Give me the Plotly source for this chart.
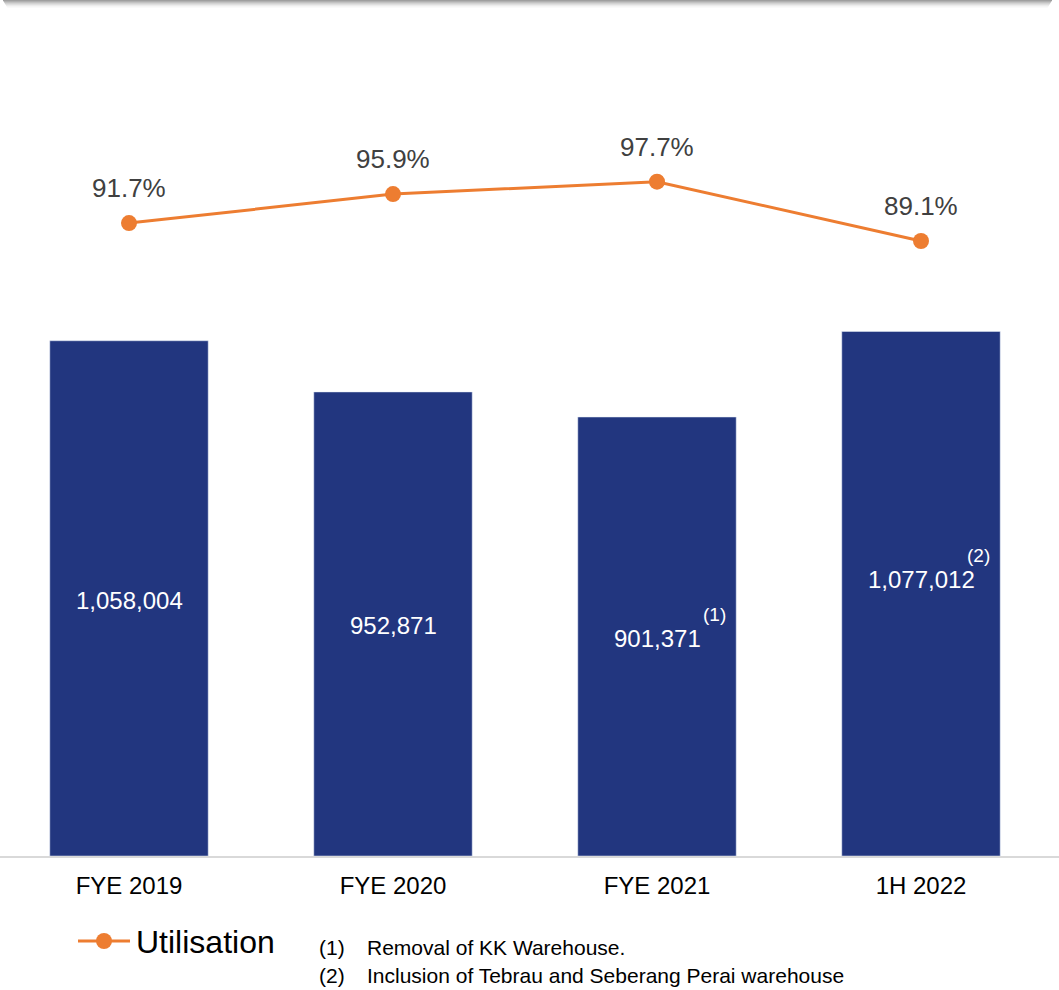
import plotly.graph_objects as go

categories = ["FYE 2019", "FYE 2020", "FYE 2021", "1H 2022"]
capacity = [1058004, 952871, 901371, 1077012]
capacity_labels = ["1,058,004", "952,871", "901,371", "1,077,012"]
utilisation = [91.7, 95.9, 97.7, 89.1]
util_labels = ["91.7%", "95.9%", "97.7%", "89.1%"]
footnote_marks = ["", "", "(1)", "(2)"]
footnote_nums = ["(1)", "(2)"]
footnote_texts = ["Removal of KK Warehouse.", "Inclusion of Tebrau and Seberang Perai warehouse"]

BAR = "#22367F"
ORANGE = "#ED7D31"
FONT = "Liberation Sans, Arial"

W, H = 1059, 990
T, B = 100, 856
PH = B - T

def py(ypx):
    return (B - ypx) / PH

def px(xpx):
    return xpx / W

fig = go.Figure()
fig.add_trace(go.Bar(x=[0, 1, 2, 3], y=capacity, marker_color=BAR, width=0.6,
                     showlegend=False, hoverinfo="skip"))
fig.add_trace(go.Scatter(x=[0, 1, 2, 3], y=utilisation, yaxis="y2", mode="lines+markers",
                         name="Utilisation", line=dict(color=ORANGE, width=3),
                         marker=dict(color=ORANGE, size=16), showlegend=False))

ann = []
for i, (v, lab) in enumerate(zip(capacity, capacity_labels)):
    ys = 14 if i == 3 else -2
    ann.append(dict(x=i, y=v / 2, xref="x", yref="y", text=lab, showarrow=False,
                    font=dict(color="white", size=24, family=FONT), yshift=ys))
    if footnote_marks[i]:
        ann.append(dict(x=i, y=v / 2, xref="x", yref="y", text=footnote_marks[i], showarrow=False,
                        font=dict(color="white", size=19, family=FONT),
                        xshift=57, yshift=ys + 24))
for i, (v, lab) in enumerate(zip(utilisation, util_labels)):
    ann.append(dict(x=i, y=v, xref="x", yref="y2", text=lab, showarrow=False,
                    font=dict(color="#404040", size=26, family=FONT), yshift=35))
for k in range(len(footnote_texts)):
    yk = py(947 + 28 * k)
    ann.append(dict(x=px(317), y=yk, xref="paper", yref="paper", text=footnote_nums[k],
                    showarrow=False, xanchor="left", yanchor="middle",
                    font=dict(color="black", size=21, family=FONT)))
    ann.append(dict(x=px(365), y=yk, xref="paper", yref="paper", text=footnote_texts[k],
                    showarrow=False, xanchor="left", yanchor="middle",
                    font=dict(color="black", size=21, family=FONT)))
# legend text
ann.append(dict(x=px(134), y=py(942), xref="paper", yref="paper", text="Utilisation",
                showarrow=False, xanchor="left", yanchor="middle",
                font=dict(color="black", size=32, family=FONT)))

shapes = []
# top shadow band
for j, op in enumerate([0.55, 0.45, 0.35, 0.26, 0.18, 0.11, 0.06, 0.03]):
    shapes.append(dict(type="rect", xref="paper", yref="paper",
                       x0=px(3 + j * 0.6), x1=px(1052 - j * 0.6),
                       y0=py(j + 1), y1=py(j), line=dict(width=0),
                       fillcolor="rgba(80,80,80,%.2f)" % op, layer="above"))
# legend symbol
shapes.append(dict(type="line", xref="paper", yref="paper", x0=px(78), x1=px(130),
                   y0=py(941), y1=py(941), line=dict(color=ORANGE, width=3)))
shapes.append(dict(type="circle", xref="paper", yref="paper", x0=px(96), x1=px(112),
                   y0=py(949), y1=py(933), line=dict(width=0), fillcolor=ORANGE))

fig.update_layout(
    width=W, height=H,
    margin=dict(l=0, r=0, t=T, b=H - B),
    plot_bgcolor="white", paper_bgcolor="white",
    xaxis=dict(tickmode="array", tickvals=[0, 1, 2, 3], ticktext=categories,
               range=[-129 / 264, (W - 129) / 264], showgrid=False, zeroline=False,
               showline=True, linecolor="#D9D9D9", linewidth=1.5, ticks="",
               ticklabelstandoff=7,
               tickfont=dict(size=24, color="black", family=FONT)),
    yaxis=dict(range=[0, PH / 487e-6], visible=False, showgrid=False, zeroline=False),
    yaxis2=dict(range=[0, PH / 6.902], overlaying="y", visible=False, showgrid=False, zeroline=False),
    showlegend=False,
    annotations=ann, shapes=shapes,
)
fig.write_html("out.html")
